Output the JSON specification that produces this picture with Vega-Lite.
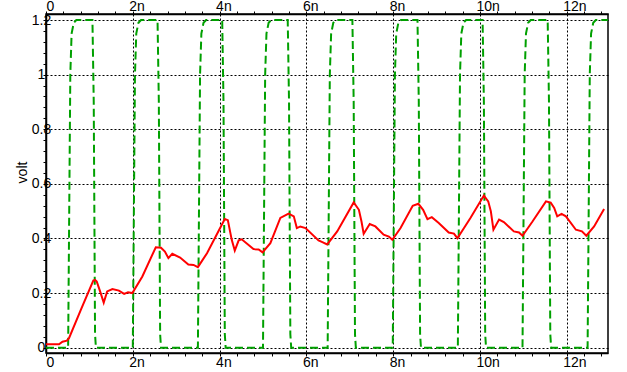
{
  "$schema": "https://vega.github.io/schema/vega-lite/v6.json",
  "autosize": "none",
  "width": 562,
  "height": 339,
  "padding": {"left": 46, "top": 14, "right": 19, "bottom": 19},
  "background": "white",
  "config": {
    "view": {"stroke": "black", "strokeWidth": 1.5},
    "axis": {
      "labelFont": "Liberation Sans", "labelFontSize": 14, "labelColor": "black",
      "titleFont": "Liberation Sans", "titleFontSize": 14, "titleFontWeight": "normal", "titleColor": "black",
      "domainColor": "black", "domainWidth": 1.5, "tickColor": "black", "tickSize": 3, "tickWidth": 1,
      "gridColor": "black", "gridDash": [2, 2], "gridWidth": 1,
      "labelOverlap": false, "labelBound": false, "labelFlush": false
    }
  },
  "datasets": {
    "vin": [
      {"t": 0, "v": 0},
      {"t": 0.51, "v": 0}, {"t": 0.54, "v": 0.6}, {"t": 0.56, "v": 1.0}, {"t": 0.59, "v": 1.15}, {"t": 0.64, "v": 1.19}, {"t": 0.7, "v": 1.2},
      {"t": 1.07, "v": 1.2}, {"t": 1.1, "v": 0.9}, {"t": 1.13, "v": 0.05}, {"t": 1.15, "v": 0},
      {"t": 2.0, "v": 0}, {"t": 2.03, "v": 0.6}, {"t": 2.05, "v": 1.0}, {"t": 2.08, "v": 1.15}, {"t": 2.13, "v": 1.19}, {"t": 2.19, "v": 1.2},
      {"t": 2.57, "v": 1.2}, {"t": 2.6, "v": 0.9}, {"t": 2.63, "v": 0.05}, {"t": 2.65, "v": 0},
      {"t": 3.5, "v": 0}, {"t": 3.53, "v": 0.6}, {"t": 3.55, "v": 1.0}, {"t": 3.58, "v": 1.15}, {"t": 3.63, "v": 1.19}, {"t": 3.69, "v": 1.2},
      {"t": 4.06, "v": 1.2}, {"t": 4.09, "v": 0.9}, {"t": 4.12, "v": 0.05}, {"t": 4.14, "v": 0},
      {"t": 5.0, "v": 0}, {"t": 5.03, "v": 0.6}, {"t": 5.05, "v": 1.0}, {"t": 5.08, "v": 1.15}, {"t": 5.13, "v": 1.19}, {"t": 5.19, "v": 1.2},
      {"t": 5.57, "v": 1.2}, {"t": 5.6, "v": 0.9}, {"t": 5.63, "v": 0.05}, {"t": 5.65, "v": 0},
      {"t": 6.49, "v": 0}, {"t": 6.52, "v": 0.6}, {"t": 6.54, "v": 1.0}, {"t": 6.57, "v": 1.15}, {"t": 6.62, "v": 1.19}, {"t": 6.68, "v": 1.2},
      {"t": 7.06, "v": 1.2}, {"t": 7.09, "v": 0.9}, {"t": 7.12, "v": 0.05}, {"t": 7.14, "v": 0},
      {"t": 7.99, "v": 0}, {"t": 8.02, "v": 0.6}, {"t": 8.04, "v": 1.0}, {"t": 8.07, "v": 1.15}, {"t": 8.12, "v": 1.19}, {"t": 8.18, "v": 1.2},
      {"t": 8.56, "v": 1.2}, {"t": 8.59, "v": 0.9}, {"t": 8.62, "v": 0.05}, {"t": 8.64, "v": 0},
      {"t": 9.49, "v": 0}, {"t": 9.52, "v": 0.6}, {"t": 9.54, "v": 1.0}, {"t": 9.57, "v": 1.15}, {"t": 9.62, "v": 1.19}, {"t": 9.68, "v": 1.2},
      {"t": 10.06, "v": 1.2}, {"t": 10.09, "v": 0.9}, {"t": 10.12, "v": 0.05}, {"t": 10.14, "v": 0},
      {"t": 10.98, "v": 0}, {"t": 11.01, "v": 0.6}, {"t": 11.03, "v": 1.0}, {"t": 11.06, "v": 1.15}, {"t": 11.11, "v": 1.19}, {"t": 11.17, "v": 1.2},
      {"t": 11.56, "v": 1.2}, {"t": 11.59, "v": 0.9}, {"t": 11.62, "v": 0.05}, {"t": 11.64, "v": 0},
      {"t": 12.48, "v": 0}, {"t": 12.51, "v": 0.6}, {"t": 12.53, "v": 1.0}, {"t": 12.56, "v": 1.15}, {"t": 12.61, "v": 1.19}, {"t": 12.67, "v": 1.2},
      {"t": 12.95, "v": 1.2}
    ],
    "vout": [
      {"t": 0, "v": 0.0125}, {"t": 0.30, "v": 0.0125}, {"t": 0.38, "v": 0.022}, {"t": 0.48, "v": 0.026}, {"t": 0.53, "v": 0.035},
      {"t": 0.80, "v": 0.138}, {"t": 1.09, "v": 0.246}, {"t": 1.13, "v": 0.248}, {"t": 1.17, "v": 0.242}, {"t": 1.26, "v": 0.2},
      {"t": 1.33, "v": 0.165}, {"t": 1.41, "v": 0.206}, {"t": 1.53, "v": 0.215}, {"t": 1.68, "v": 0.209}, {"t": 1.80, "v": 0.197},
      {"t": 1.89, "v": 0.203}, {"t": 1.99, "v": 0.2}, {"t": 2.22, "v": 0.261}, {"t": 2.53, "v": 0.368}, {"t": 2.65, "v": 0.366},
      {"t": 2.74, "v": 0.352}, {"t": 2.82, "v": 0.328}, {"t": 2.91, "v": 0.344}, {"t": 3.09, "v": 0.33}, {"t": 3.28, "v": 0.305},
      {"t": 3.40, "v": 0.303}, {"t": 3.50, "v": 0.295}, {"t": 3.71, "v": 0.346}, {"t": 4.12, "v": 0.471}, {"t": 4.19, "v": 0.467},
      {"t": 4.28, "v": 0.395}, {"t": 4.35, "v": 0.356}, {"t": 4.44, "v": 0.393}, {"t": 4.51, "v": 0.397}, {"t": 4.78, "v": 0.361},
      {"t": 4.90, "v": 0.360}, {"t": 4.99, "v": 0.349}, {"t": 5.17, "v": 0.383}, {"t": 5.40, "v": 0.475}, {"t": 5.59, "v": 0.491},
      {"t": 5.71, "v": 0.481}, {"t": 5.78, "v": 0.438}, {"t": 5.86, "v": 0.444}, {"t": 5.98, "v": 0.438}, {"t": 6.28, "v": 0.393},
      {"t": 6.38, "v": 0.386}, {"t": 6.48, "v": 0.378}, {"t": 6.71, "v": 0.426}, {"t": 7.09, "v": 0.532}, {"t": 7.21, "v": 0.505},
      {"t": 7.27, "v": 0.462}, {"t": 7.32, "v": 0.417}, {"t": 7.46, "v": 0.453}, {"t": 7.59, "v": 0.444}, {"t": 7.78, "v": 0.414},
      {"t": 7.90, "v": 0.407}, {"t": 7.98, "v": 0.395}, {"t": 8.17, "v": 0.438}, {"t": 8.45, "v": 0.520}, {"t": 8.58, "v": 0.527},
      {"t": 8.69, "v": 0.505}, {"t": 8.79, "v": 0.471}, {"t": 8.89, "v": 0.478}, {"t": 9.05, "v": 0.457}, {"t": 9.28, "v": 0.422},
      {"t": 9.40, "v": 0.418}, {"t": 9.48, "v": 0.401}, {"t": 9.78, "v": 0.475}, {"t": 10.09, "v": 0.557}, {"t": 10.19, "v": 0.536},
      {"t": 10.25, "v": 0.5}, {"t": 10.31, "v": 0.432}, {"t": 10.44, "v": 0.469}, {"t": 10.55, "v": 0.46}, {"t": 10.78, "v": 0.426},
      {"t": 10.90, "v": 0.422}, {"t": 10.98, "v": 0.41}, {"t": 11.21, "v": 0.462}, {"t": 11.52, "v": 0.536}, {"t": 11.63, "v": 0.531},
      {"t": 11.71, "v": 0.512}, {"t": 11.78, "v": 0.481}, {"t": 11.88, "v": 0.49}, {"t": 11.98, "v": 0.481}, {"t": 12.21, "v": 0.432},
      {"t": 12.35, "v": 0.426}, {"t": 12.45, "v": 0.41}, {"t": 12.63, "v": 0.444}, {"t": 12.86, "v": 0.508}
    ]
  },
  "layer": [
    {
      "data": {"name": "vin"},
      "mark": {"type": "line", "color": "#00a000", "strokeWidth": 2, "strokeDash": [8, 4], "clip": true},
      "encoding": {
        "x": {
          "field": "t", "type": "quantitative",
          "scale": {"domain": [0, 12.95], "nice": false, "zero": false},
          "axis": {
            "orient": "bottom", "title": null,
            "values": [0, 0.4, 0.8, 1.2, 1.6, 2, 2.4, 2.8, 3.2, 3.6, 4, 4.4, 4.8, 5.2, 5.6, 6, 6.4, 6.8, 7.2, 7.6, 8, 8.4, 8.8, 9.2, 9.6, 10, 10.4, 10.8, 11.2, 11.6, 12, 12.4, 12.8],
            "labelExpr": "abs(datum.value/2 - round(datum.value/2)) < 0.001 ? (datum.value == 0 ? '0' : round(datum.value) + 'n') : ''",
            "labelAlign": "left",
            "labelOffset": {"condition": {"test": "datum.value == 0", "value": 0}, "value": -4},
            "labelPadding": -1,
            "grid": true,
            "gridOpacity": {"condition": {"test": "abs(datum.value/2 - round(datum.value/2)) < 0.001", "value": 1}, "value": 0}
          }
        },
        "y": {
          "field": "v", "type": "quantitative",
          "scale": {"domain": [-0.0194, 1.222], "nice": false, "zero": false},
          "axis": {
            "orient": "left",
            "title": "volt", "titleAngle": -90, "titleAlign": "center", "titleBaseline": "middle", "titleX": -24, "titleY": 158,
            "values": [0, 0.04, 0.08, 0.12, 0.16, 0.2, 0.24, 0.28, 0.32, 0.36, 0.4, 0.44, 0.48, 0.52, 0.56, 0.6, 0.64, 0.68, 0.72, 0.76, 0.8, 0.84, 0.88, 0.92, 0.96, 1, 1.04, 1.08, 1.12, 1.16, 1.2],
            "labelExpr": "abs(datum.value*5 - round(datum.value*5)) < 0.01 ? format(datum.value, '~g') : ''",
            "labelAlign": "center", "labelBaseline": "middle", "labelPadding": 2,
            "grid": true,
            "gridOpacity": {"condition": {"test": "abs(datum.value*5 - round(datum.value*5)) < 0.01", "value": 1}, "value": 0}
          }
        }
      }
    },
    {
      "data": {"name": "vout"},
      "mark": {"type": "line", "color": "#ff0000", "strokeWidth": 2, "clip": true},
      "encoding": {
        "x": {
          "field": "t", "type": "quantitative",
          "scale": {"domain": [0, 12.95], "nice": false, "zero": false},
          "axis": {
            "orient": "top", "title": null, "grid": false,
            "values": [0, 0.4, 0.8, 1.2, 1.6, 2, 2.4, 2.8, 3.2, 3.6, 4, 4.4, 4.8, 5.2, 5.6, 6, 6.4, 6.8, 7.2, 7.6, 8, 8.4, 8.8, 9.2, 9.6, 10, 10.4, 10.8, 11.2, 11.6, 12, 12.4, 12.8],
            "labelExpr": "abs(datum.value/2 - round(datum.value/2)) < 0.001 ? (datum.value == 0 ? '0' : round(datum.value) + 'n') : ''",
            "labelAlign": "left",
            "labelOffset": {"condition": {"test": "datum.value == 0", "value": 0}, "value": -4},
            "labelPadding": -2
          }
        },
        "y": {
          "field": "v", "type": "quantitative",
          "scale": {"domain": [-0.0194, 1.222], "nice": false, "zero": false},
          "axis": {
            "orient": "left",
            "title": "volt", "titleAngle": -90, "titleAlign": "center", "titleBaseline": "middle", "titleX": -24, "titleY": 158,
            "values": [0, 0.04, 0.08, 0.12, 0.16, 0.2, 0.24, 0.28, 0.32, 0.36, 0.4, 0.44, 0.48, 0.52, 0.56, 0.6, 0.64, 0.68, 0.72, 0.76, 0.8, 0.84, 0.88, 0.92, 0.96, 1, 1.04, 1.08, 1.12, 1.16, 1.2],
            "labelExpr": "abs(datum.value*5 - round(datum.value*5)) < 0.01 ? format(datum.value, '~g') : ''",
            "labelAlign": "center", "labelBaseline": "middle", "labelPadding": 2,
            "grid": true,
            "gridOpacity": {"condition": {"test": "abs(datum.value*5 - round(datum.value*5)) < 0.01", "value": 1}, "value": 0}
          }
        }
      }
    }
  ],
  "resolve": {"axis": {"x": "independent"}}
}
